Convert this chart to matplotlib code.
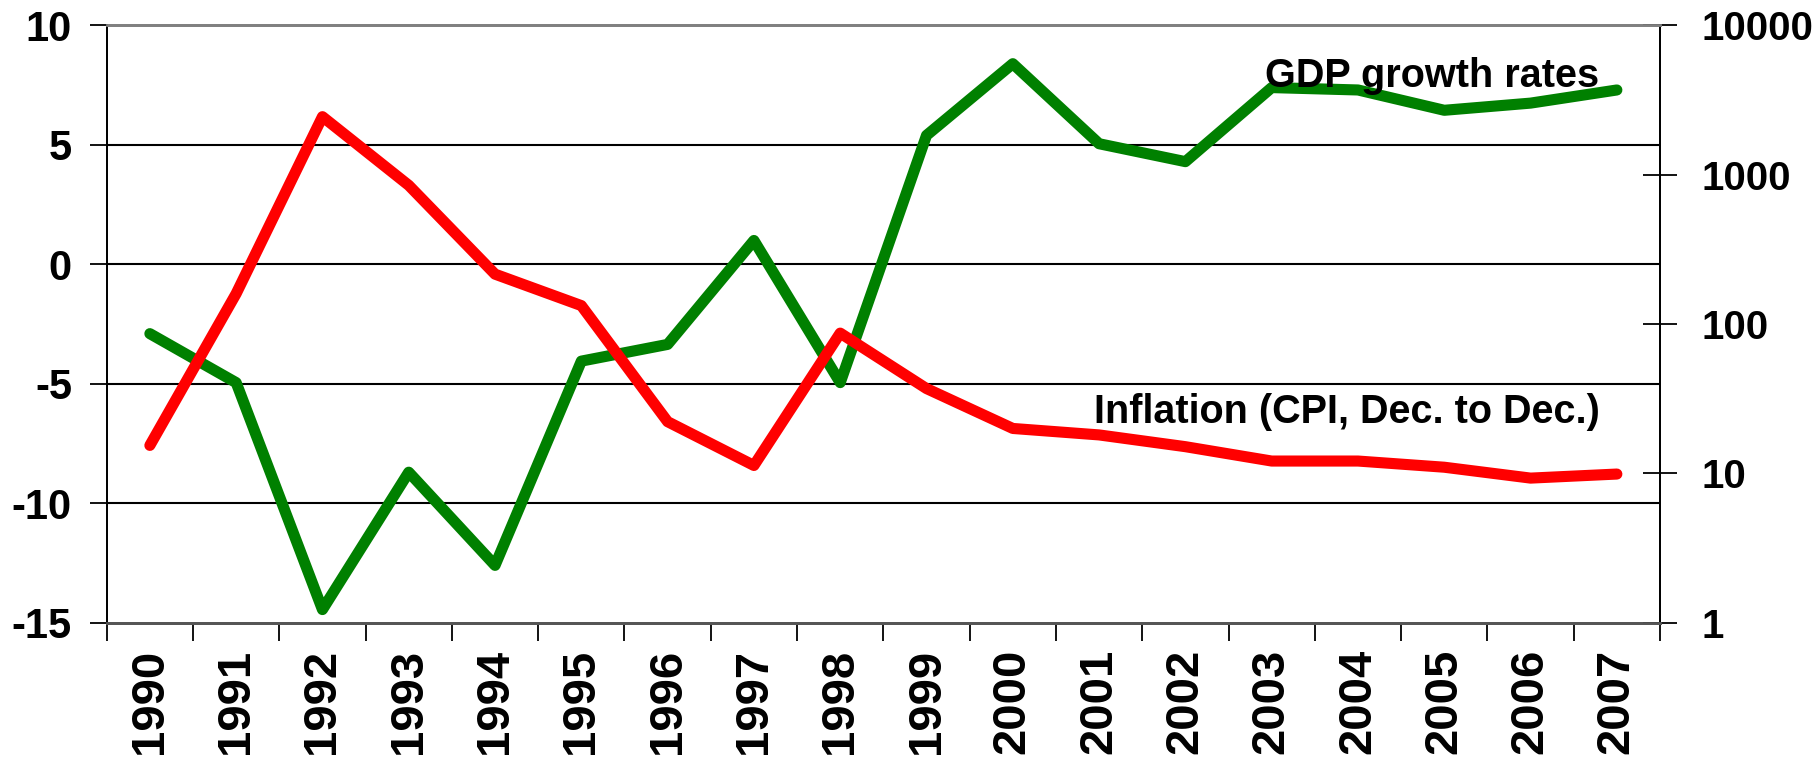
import matplotlib
matplotlib.use("Agg")
import matplotlib.pyplot as plt
from matplotlib.ticker import FixedLocator, NullLocator, FixedFormatter
import numpy as np

# data
years = [str(y) for y in range(1990, 2008)]
gdp_growth = [-2.9, -4.95, -14.45, -8.7, -12.6, -4.05, -3.35, 1.0, -4.95,
              5.4, 8.4, 5.05, 4.3, 7.4, 7.3, 6.45, 6.75, 7.3]
inflation = [15.4, 160, 2450, 850, 216, 133, 22.2, 11.3, 87, 37,
             20.0, 18.1, 15.1, 12.1, 12.1, 11.0, 9.3, 9.9]

left_ticks = [-15, -10, -5, 0, 5, 10]
right_ticks = [1, 10, 100, 1000, 10000]

font = "Liberation Sans"

fig = plt.figure(figsize=(18.18, 7.65), dpi=100)
ax = fig.add_axes([0.0587, 0.186, 0.8544, 0.7807])
ax2 = ax.twinx()

x = np.arange(len(years))

ax.plot(x, gdp_growth, color="#008000", lw=8, solid_capstyle="round", zorder=3)
ax2.plot(x, inflation, color="#FF0000", lw=8, solid_capstyle="round", zorder=3)

ax.set_xlim(-0.5, len(years) - 0.5)
ax.set_ylim(-15, 10)
ax2.set_yscale("log")
ax2.set_ylim(1, 10000)

# gridlines on the left axis
for v in left_ticks[1:-1]:
    ax.axhline(v, color="black", lw=1.5, zorder=1)

ax.set_yticks(left_ticks)
ax.set_yticklabels([str(v) for v in left_ticks], fontfamily=font,
                   fontweight="bold", fontsize=30)
ax.tick_params(axis="y", direction="out", length=12, width=1.3, pad=13)

ax2.yaxis.set_major_locator(FixedLocator(right_ticks))
ax2.yaxis.set_major_formatter(FixedFormatter([str(v) for v in right_ticks]))
ax2.yaxis.set_minor_locator(NullLocator())
for lab in ax2.get_yticklabels():
    lab.set_fontfamily(font)
    lab.set_fontweight("bold")
    lab.set_fontsize(29)
ax2.tick_params(axis="y", direction="inout", length=24, width=1.3, pad=18)

# category axis: ticks on boundaries, labels at centres
ax.xaxis.set_major_locator(FixedLocator(np.arange(-0.5, len(years), 1.0)))
ax.xaxis.set_major_formatter(FixedFormatter([""] * (len(years) + 1)))
ax.xaxis.set_minor_locator(FixedLocator(x))
ax.xaxis.set_minor_formatter(FixedFormatter(years))
ax.tick_params(axis="x", which="major", direction="out", length=13, width=1.3)
ax.tick_params(axis="x", which="minor", length=0, pad=19)
for lab in ax.xaxis.get_minorticklabels():
    lab.set_rotation(90)
    lab.set_fontfamily(font)
    lab.set_fontweight("bold")
    lab.set_fontsize(34)
    lab.set_va("top")

for a in (ax, ax2):
    a.spines["top"].set_color("#808080")
    a.spines["top"].set_linewidth(2)
    a.spines["bottom"].set_color("#555555")
    a.spines["bottom"].set_linewidth(2)
    a.spines["left"].set_color("black")
    a.spines["right"].set_color("black")
    a.spines["left"].set_linewidth(1.3)
    a.spines["right"].set_linewidth(1.3)

ax.text(16.8, 7.9, "GDP growth rates", ha="right", va="center",
        fontfamily=font, fontweight="bold", fontsize=28.5, zorder=4)
ax.text(16.8, -6.2, "Inflation (CPI, Dec. to Dec.)", ha="right", va="center",
        fontfamily=font, fontweight="bold", fontsize=28.5, zorder=4)

fig.savefig("out.png", dpi=100)
